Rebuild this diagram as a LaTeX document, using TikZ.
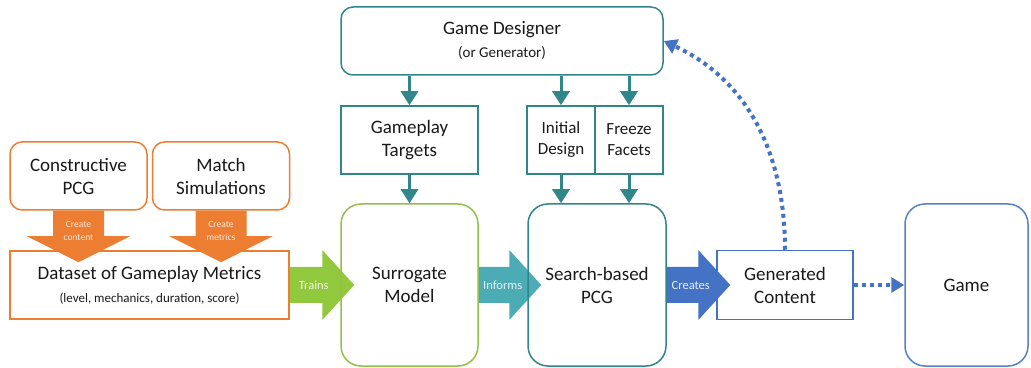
\documentclass[tikz,border=0pt]{standalone}
\usepackage{fontspec}
\setmainfont{Carlito}
\usetikzlibrary{arrows.meta,calc,backgrounds}

\definecolor{pcgorange}{RGB}{237,125,49}
\definecolor{flowteal}{RGB}{49,134,138}
\definecolor{modelgreen}{RGB}{146,192,74}
\definecolor{trainsgreen}{RGB}{146,200,62}
\definecolor{informsteal}{RGB}{75,172,182}
\definecolor{contentblue}{RGB}{68,114,196}
\definecolor{inktext}{RGB}{25,25,25}

\begin{document}
\begin{tikzpicture}[x=1pt,y=1pt,
    box/.style={draw, line width=1.5pt, align=center, inner sep=0pt, text=inktext,
                font=\fontsize{19}{23}\selectfont},
    wide/.style={minimum width=137pt, minimum height=68pt},
    tall/.style={minimum width=137pt, minimum height=162pt, rounded corners=20pt},
    narrow/.style={minimum width=68pt, minimum height=68pt, font=\fontsize{17}{21}\selectfont},
    tealarrow/.style={flowteal, line width=3pt, -{Triangle[width=17pt,length=14pt]}},
    dotarrow/.style={contentblue, line width=4pt, dash pattern=on 4pt off 4pt,
                     -{Triangle[width=15pt,length=13pt]}},
    blocklabel/.style={align=center, font=\fontsize{12.5}{14}\selectfont},
  ]
  \useasboundingbox (0,0) rectangle (1031,367);

  % inputs and the dataset
  \node[box, draw=pcgorange, wide, rounded corners=12pt] (cpcg) at (78.5,191) {Constructive\\PCG};
  \node[box, draw=pcgorange, wide, rounded corners=12pt] (msim) at (221,191) {Match\\Simulations};
  \node[box, draw=pcgorange, minimum width=279pt, minimum height=68pt] (data) at (149.5,82)
    {Dataset of Gameplay Metrics\\{\fontsize{13}{15}\selectfont (level, mechanics, duration, score)}};

  % designer side
  \node[box, draw=flowteal, minimum width=322pt, minimum height=68pt, rounded corners=12pt] (gd) at (502,326)
    {Game Designer\\{\fontsize{15}{17}\selectfont (or Generator)}};
  \node[box, draw=flowteal, wide] (gt) at (409.5,227) {Gameplay\\Targets};
  \node[box, draw=flowteal, narrow] (init) at (561,227) {Initial\\Design};
  \node[box, draw=flowteal, narrow] (freeze) at (629,227) {Freeze\\Facets};

  % main row
  \node[box, draw=modelgreen, tall] (surr) at (409.5,82) {Surrogate\\Model};
  \node[box, draw=flowteal, tall, minimum width=138pt] (sbpcg) at (597,82) {Search-based\\PCG};
  \node[box, draw=contentblue, minimum width=136pt, minimum height=69pt] (gen) at (785,82) {Generated\\Content};
  \node[box, draw=contentblue!90!white, tall, minimum width=123pt] (game) at (966.5,82) {Game};

  \foreach \n in {gt, init, freeze} {
    \draw[tealarrow] (gd.south -| \n) -- (\n.north);
    \draw[tealarrow] (\n.south) -- (\n |- surr.north);
  }

  \begin{scope}[on background layer]
    % fat arrows down into the dataset
    \foreach \n/\lbl in {cpcg/{Create\\content}, msim/{Create\\metrics}} {
      \coordinate (tip) at ($(\n.south |- data.north)+(0,-12)$);
      \fill[pcgorange] ($(\n.south)+(-25.5,0)$) -- ($(tip)+(-25.5,26)$) -- ($(tip)+(-51.5,26)$)
        -- (tip) -- ($(tip)+(51.5,26)$) -- ($(tip)+(25.5,26)$) -- ($(\n.south)+(25.5,0)$) -- cycle;
      \node[blocklabel, text=white!82!pcgorange, font=\fontsize{9.5}{13.5}\selectfont]
        at ($(\n.south)+(0,-20)$) {\lbl};
    }
    % fat arrows along the main row
    \foreach \a/\b/\col/\lbl in {data/surr/trainsgreen/Trains, surr/sbpcg/informsteal/Informs,
                                 sbpcg/gen/contentblue/Creates} {
      \coordinate (tip) at ($(\b.west)+(14,0)$);
      \fill[\col] ($(\a.east)+(0,18)$) -- ($(tip)+(-32,18)$) -- ($(tip)+(-32,35)$) -- (tip)
        -- ($(tip)+(-32,-35)$) -- ($(tip)+(-32,-18)$) -- ($(\a.east)+(0,-18)$) -- cycle;
      \node[blocklabel, text=white!88!\col] at ($(\a.east)+(24,0)$) {\lbl};
    }
  \end{scope}

  \draw[dotarrow] (gen.east) -- (game.west);
  \draw[dotarrow] (gen.north) to[out=90, in=-25] (gd.east);
\end{tikzpicture}
\end{document}
